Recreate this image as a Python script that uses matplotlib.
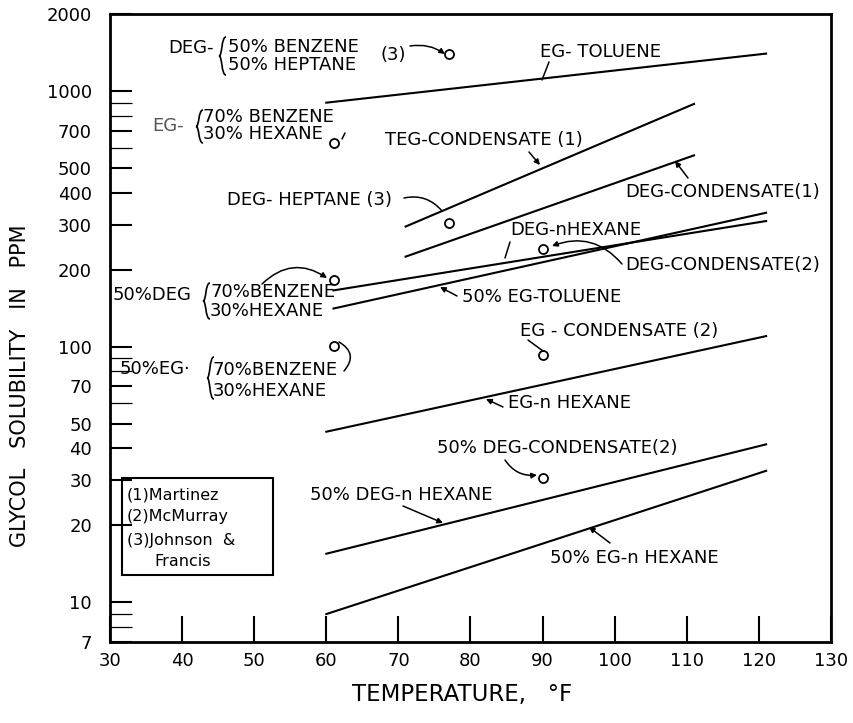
import matplotlib
matplotlib.use('Agg')
import matplotlib.pyplot as plt
from matplotlib.transforms import Affine2D
from matplotlib.patches import Rectangle, PathPatch
from matplotlib.path import Path

# solubility lines (temperature in F, glycol in ppm)
eg_toluene_t = [60, 121]
eg_toluene = [900, 1400]
teg_cond1_t = [71, 111]
teg_cond1 = [295, 890]
deg_cond1_t = [71, 111]
deg_cond1 = [225, 560]
deg_nhexane_t = [61, 121]
deg_nhexane = [166, 310]
eg50_toluene_t = [61, 121]
eg50_toluene = [141, 334]
eg_nhexane_t = [60, 121]
eg_nhexane = [46.5, 110]
deg50_nhexane_t = [60, 121]
deg50_nhexane = [15.5, 41.5]
eg50_nhexane_t = [60, 121]
eg50_nhexane = [9.0, 32.7]

# single measurements (circles)
point_t = [77, 61, 77, 61, 90, 61, 90, 90]
point_ppm = [1390, 625, 305, 182, 242, 101, 93, 30.7]

xticks = [30, 40, 50, 60, 70, 80, 90, 100, 110, 120, 130]
yticks = [7, 10, 20, 30, 40, 50, 70, 100, 200, 300, 400, 500, 700, 1000, 2000]
yminor = [8, 9, 60, 80, 90, 600, 800, 900]

plt.rcParams['font.family'] = ['DejaVu Sans']
fig = plt.figure(figsize=(8.54, 7.23), dpi=100)
ax = fig.add_axes([110 / 854, 1 - 642 / 723, 721 / 854, 628 / 723])

# image-pixel coordinates (origin top-left) for the hand lettering
px = Affine2D().scale(1 / 100, -1 / 100).translate(0, 7.23) + fig.dpi_scale_trans

lw = 1.5
for t, v in [(eg_toluene_t, eg_toluene), (teg_cond1_t, teg_cond1),
             (deg_cond1_t, deg_cond1), (deg_nhexane_t, deg_nhexane),
             (eg50_toluene_t, eg50_toluene), (eg_nhexane_t, eg_nhexane),
             (deg50_nhexane_t, deg50_nhexane), (eg50_nhexane_t, eg50_nhexane)]:
    ax.plot(t, v, color='black', lw=lw)

ax.plot(point_t, point_ppm, 'o', ms=6.5, mfc='white', mec='black', mew=1.3, ls='none')

ax.set_yscale('log')
ax.set_xlim(30, 130)
ax.set_ylim(7, 2000)
ax.set_xticks(xticks)
ax.set_xticklabels([str(v) for v in xticks])
ax.set_yticks(yticks)
ax.set_yticklabels([str(v) for v in yticks])
ax.set_yticks(yminor, minor=True)
ax.yaxis.set_minor_formatter(plt.NullFormatter())
ax.tick_params(axis='x', direction='in', length=19, width=1.5, pad=7, labelsize=13)
ax.tick_params(axis='y', which='major', direction='in', length=16, width=1.5, pad=13, labelsize=13)
ax.tick_params(axis='y', which='minor', direction='in', length=16, width=0.9)
for s in ax.spines.values():
    s.set_linewidth(2)

fig.text(20 / 854, 1 - 386 / 723, 'GLYCOL   SOLUBILITY   IN   PPM', rotation=90,
         ha='center', va='center', fontsize=15)
fig.text(462 / 854, 1 - 695 / 723, 'TEMPERATURE,   °F', ha='center', va='center', fontsize=16.5)


def label(x, y, s, size=13, **kw):
    ax.text(x, y, s, transform=px, fontsize=size, va='center', ha='left', clip_on=False, **kw)


def pointer(x0, y0, x1, y1, head=True, rad=0.0):
    style = '-|>' if head else '-'
    ax.annotate('', xy=(x1, y1), xytext=(x0, y0), xycoords=px, textcoords=px,
                arrowprops=dict(arrowstyle=style, lw=1.1, color='black', shrinkA=0, shrinkB=0,
                                mutation_scale=8, connectionstyle='arc3,rad=%s' % rad))


def brace(x, y0, y1, w=7):
    m = (y0 + y1) / 2
    verts = [(x + w, y0), (x + w * 0.3, y0), (x + w * 0.5, m), (x, m),
             (x + w * 0.5, m), (x + w * 0.3, y1), (x + w, y1)]
    codes = [Path.MOVETO, Path.CURVE4, Path.CURVE4, Path.CURVE4,
             Path.CURVE4, Path.CURVE4, Path.CURVE4]
    ax.add_patch(PathPatch(Path(verts, codes), fill=False, lw=1.2, transform=px, clip_on=False))


# upper-left mixtures
label(168, 48, 'DEG-')
brace(219, 37, 75)
label(228, 47, '50% BENZENE')
label(228, 65, '50% HEPTANE')
label(381, 55, '(3)')
pointer(410, 46, 445, 54, rad=-0.2)

label(152, 126, 'EG-', color='#555555')
brace(196, 110, 143)
label(203, 117, '70% BENZENE')
label(203, 134, '30% HEXANE')
pointer(342, 139, 345, 133, head=False)

label(227, 200, 'DEG- HEPTANE (3)')
pointer(404, 198, 442, 211, head=False, rad=-0.3)

label(113, 295, '50%DEG')
brace(203, 283, 319)
label(210, 292, '70%BENZENE')
label(210, 311, '30%HEXANE')
pointer(262, 284, 327, 278, rad=-0.4)

label(120, 369, '50%EG·')
brace(207, 357, 399)
label(213, 370, '70%BENZENE')
label(213, 391, '30%HEXANE')
pointer(339, 342, 344, 371, head=False, rad=-0.6)

# line labels
label(540, 52, 'EG- TOLUENE')
pointer(549, 62, 542, 80, head=False)
label(385, 140, 'TEG-CONDENSATE (1)')
pointer(529, 152, 540, 165)
label(625, 192, 'DEG-CONDENSATE(1)')
pointer(688, 178, 675, 161)
label(510, 230, 'DEG-nHEXANE')
pointer(510, 242, 505, 258, head=False)
label(625, 265, 'DEG-CONDENSATE(2)')
pointer(622, 264, 552, 246, rad=0.35)
label(462, 297, '50% EG-TOLUENE')
pointer(457, 296, 440, 287)
label(520, 331, 'EG - CONDENSATE (2)')
pointer(528, 340, 543, 351, head=False)
label(508, 403, 'EG-n HEXANE')
pointer(503, 407, 486, 399)
label(437, 448, '50% DEG-CONDENSATE(2)')
pointer(505, 460, 537, 475, rad=0.3)
label(310, 495, '50% DEG-n HEXANE')
pointer(403, 506, 443, 523)
label(550, 558, '50% EG-n HEXANE')
pointer(610, 543, 589, 527)

# references box
ax.add_patch(Rectangle((122, 478), 151, 97, fill=False, lw=1.5, transform=px, clip_on=False))
label(127, 495, '(1)Martinez', size=11.5)
label(127, 517, '(2)McMurray', size=11.5)
label(127, 541, '(3)Johnson  &', size=11.5)
label(154, 561, 'Francis', size=11.5)

fig.savefig('out.png', dpi=100)
